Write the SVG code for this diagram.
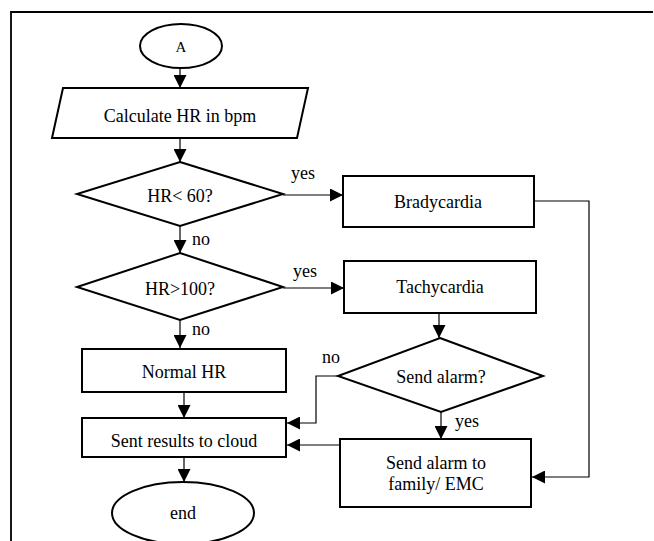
<svg xmlns="http://www.w3.org/2000/svg" width="654" height="541" viewBox="0 0 654 541">
<style>
.shape{fill:#fff;stroke:#000;stroke-width:2}
.conn{fill:none;stroke:#000;stroke-width:1.2}
.border{fill:none;stroke:#000;stroke-width:1.8}
text{font-family:"Liberation Serif","Times New Roman",serif;font-size:18px;fill:#000}
.c{text-anchor:middle}
</style>
<defs>
<marker id="ah" markerUnits="userSpaceOnUse" markerWidth="14" markerHeight="13" refX="13" refY="6.5" orient="auto">
<path d="M0,0 L13,6.5 L0,13 z" fill="#000"/>
</marker>
</defs>
<rect width="654" height="541" fill="#fff"/>
<path class="border" d="M11,541 V12 H653"/>
<g id="connectors">
<path class="conn" d="M180,68 V88" marker-end="url(#ah)"/>
<path class="conn" d="M180,138 V162" marker-end="url(#ah)"/>
<path class="conn" d="M180,226 V253" marker-end="url(#ah)"/>
<path class="conn" d="M180,320 V348" marker-end="url(#ah)"/>
<path class="conn" d="M184,392 V418" marker-end="url(#ah)"/>
<path class="conn" d="M184,457 V482" marker-end="url(#ah)"/>
<path class="conn" d="M283,195 H343" marker-end="url(#ah)"/>
<path class="conn" d="M283,288 H344" marker-end="url(#ah)"/>
<path class="conn" d="M534,201 H589 V477 H532" marker-end="url(#ah)"/>
<path class="conn" d="M439,313 V338" marker-end="url(#ah)"/>
<path class="conn" d="M338,376 H316 V423 H287" marker-end="url(#ah)"/>
<path class="conn" d="M441,412 V439" marker-end="url(#ah)"/>
<path class="conn" d="M340,445 H287" marker-end="url(#ah)"/>
<text x="291" y="179">yes</text>
<text x="192" y="245">no</text>
<text x="293" y="277">yes</text>
<text x="192" y="335">no</text>
<text x="322" y="363">no</text>
<text x="455" y="427">yes</text>
</g>
<g id="start">
<ellipse class="shape" cx="181" cy="46" rx="41" ry="22"/>
<text class="c" x="181" y="52" style="font-size:15px">A</text>
</g>
<g id="calc">
<polygon class="shape" points="63,88 308,88 297,138 52,138"/>
<text class="c" x="180" y="122">Calculate HR in bpm</text>
</g>
<g id="dec1">
<polygon class="shape" points="180,162 283,194 180,226 77,194"/>
<text class="c" x="180" y="202">HR&lt; 60?</text>
</g>
<g id="dec2">
<polygon class="shape" points="180,253 283,287 180,320 77,287"/>
<text class="c" x="180" y="295">HR&gt;100?</text>
</g>
<g id="normal">
<rect class="shape" x="82" y="349" width="204" height="43"/>
<text class="c" x="184" y="378">Normal HR</text>
</g>
<g id="cloud">
<rect class="shape" x="82" y="418" width="204" height="39"/>
<text class="c" x="184" y="447">Sent results to cloud</text>
</g>
<g id="end">
<ellipse class="shape" cx="183" cy="513" rx="71" ry="31"/>
<text class="c" x="183" y="519">end</text>
</g>
<g id="brady">
<rect class="shape" x="343" y="176" width="191" height="51"/>
<text class="c" x="438" y="208">Bradycardia</text>
</g>
<g id="tachy">
<rect class="shape" x="344" y="261" width="192" height="52"/>
<text class="c" x="440" y="293">Tachycardia</text>
</g>
<g id="dec3">
<polygon class="shape" points="440,338 543,376 441,412 338,376"/>
<text class="c" x="441" y="383">Send alarm?</text>
</g>
<g id="alarm">
<rect class="shape" x="340" y="439" width="191" height="68"/>
<text class="c" x="436" y="469">Send alarm to</text>
<text class="c" x="436" y="490">family/ EMC</text>
</g>
</svg>
